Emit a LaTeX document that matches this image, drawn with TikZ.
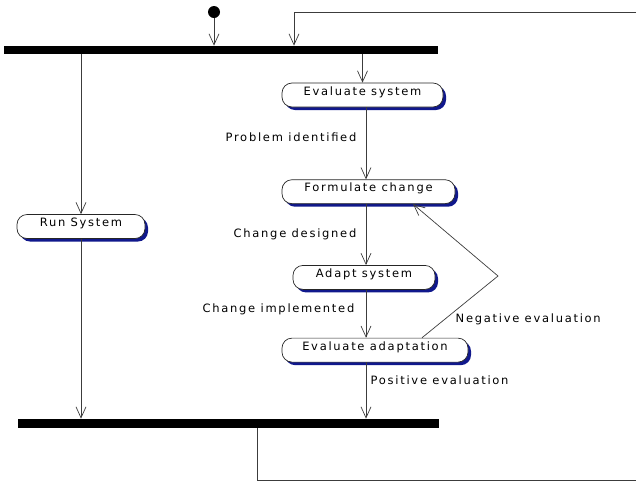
\documentclass[tikz,border=0pt]{standalone}
\usepackage{fontspec}
\newfontfamily\umlfont[LetterSpace=15]{DejaVu Sans}
\usetikzlibrary{arrows.meta,positioning,shadows}
\definecolor{shadowblue}{RGB}{16,24,140}
\definecolor{linegray}{RGB}{60,60,60}

\begin{document}
\begin{tikzpicture}[->,>={Straight Barb[length=11pt,width=10pt]},x=1pt,y=1pt,
  line width=0.7pt,linegray,
  lab/.style={font=\umlfont\fontsize{11.5}{13}\selectfont,text=black},
  act/.style={draw=black!85,fill=white,rounded corners=10pt,minimum height=24pt,
    inner ysep=3pt,text height=9pt,text depth=9pt,lab,
    drop shadow={shadow xshift=3pt,shadow yshift=-3pt,fill=shadowblue,opacity=1}},
  bar/.style={fill=black,draw=none,inner sep=0pt}]

  \useasboundingbox (0,0) rectangle (637,-483);

  \node[circle,fill=black,inner sep=0pt,minimum size=12pt] (0) at (214,-12) {};
  \node[bar,minimum width=434pt,minimum height=8pt] (1) at (221,-50) {};

  \node[act,minimum width=161pt] (2) at (362.5,-95) {Evaluate system};
  \node[act,minimum width=173pt] (3) [below=72pt of 2,xshift=6pt] {Formulate change};
  \node[act,minimum width=142pt] (4) [below=61pt of 3,xshift=-4.5pt] {Adapt system};
  \node[act,minimum width=186pt] (5) [below=48pt of 4,xshift=11pt] {Evaluate adaptation};

  \node[act,minimum width=128pt] (7) at (81,-226.5) {Run System};

  \node[bar,minimum width=421pt,minimum height=9pt] (8) at (228.5,-423.5) {};

  \coordinate (col) at (366,0);
  \coordinate (6) at (498,-276);
  \coordinate (9) at (257,-480);
  \coordinate (10) at (636,-480);
  \coordinate (11) at (636,-12);
  \coordinate (12) at (294,-12);

  \draw (0) -- (0 |- 1.north);
  \draw (1.south -| 2) -- (2);
  \draw (1.south -| 7) -- (7);
  \draw (7) -- (7 |- 8.north);

  \path[every node/.style={lab}]
    (2.south -| col) edge node[left=6pt,pos=.42] {Problem identified} (3.north -| col)
    (3.south -| col) edge node[left=6pt,pos=.5] {Change designed} (4.north -| col)
    (4.south -| col) edge node[left=8pt,pos=.4] {Change implemented} (5.north -| col)
    (5.south -| col) edge node[right=1pt,pos=.32] {Positive evaluation} (8.north -| col);

  \draw (5.north -| 422,0) -- (6) -- (3.south -| 413,0);
  \node[lab,anchor=west] at (452,-319) {Negative evaluation};

  % loop back runs off the right edge
  \draw[-] (8.south -| 9) -- (9) -- (10);
  \draw (11) -- (12) -- (12 |- 1.north);

\end{tikzpicture}
\end{document}
